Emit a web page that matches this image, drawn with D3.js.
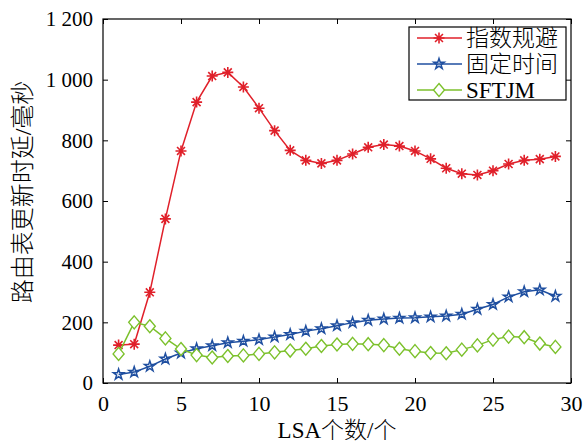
<!DOCTYPE html>
<html>
<head>
<meta charset="utf-8">
<script src="https://cdn.jsdelivr.net/npm/d3@7"></script>
<style>
  html, body { margin: 0; background: #fff; overflow: hidden; }
  svg { display: block; }
  text { font-family: "Liberation Serif", "Times New Roman", "Noto Sans CJK SC", serif; fill: #000; }
  .cjk { font-weight: 300; }
</style>
</head>
<body>
<div id="graph"><svg></svg></div>
<script>
// data
let lsaCount = [1, 2, 3, 4, 5, 6, 7, 8, 9, 10, 11, 12, 13, 14, 15, 16, 17, 18, 19, 20, 21, 22, 23, 24, 25, 26, 27, 28, 29];
let expBackoff = [125, 128, 299, 541, 765, 926, 1012, 1024, 976, 906, 832, 767, 734, 724, 734, 755, 777, 786, 781, 765, 739, 708, 690, 686, 700, 722, 734, 738, 747];
let fixedTime = [28, 36, 55, 79, 99, 113, 123, 133, 138, 143, 152, 160, 171, 179, 189, 199, 207, 211, 214, 215, 218, 221, 227, 243, 259, 284, 301, 307, 286];
let sftjm = [96, 200, 187, 147, 112, 92, 84, 89, 91, 96, 101, 107, 113, 122, 127, 129, 128, 125, 113, 105, 99, 98, 110, 124, 143, 153, 151, 130, 119];
let seriesNames = ["指数规避", "固定时间", "SFTJM"];
let xTicks = [0, 5, 10, 15, 20, 25, 30];
let yTicks = [0, 200, 400, 600, 800, 1000, 1200];
let yTickLabels = ["0", "200", "400", "600", "800", "1 000", "1 200"];

// Margin Convention
let margins = { top: 19, right: 15, bottom: 64, left: 103 };
let outerWidth = 586;
let outerHeight = 447;
let innerWidth = outerWidth - margins.left - margins.right;
let innerHeight = outerHeight - margins.top - margins.bottom;

let svg = d3
  .select("div#graph svg")
  .attr("width", outerWidth)
  .attr("height", outerHeight)
  .append("g")
  .attr("id", "plot-area")
  .attr("transform", "translate(" + margins.left + "," + margins.top + ")");

let xScale = d3.scaleLinear().domain([0, 30]).range([0, innerWidth]);
let yScale = d3.scaleLinear().domain([0, 1200]).range([innerHeight, 0]);

// axes, ticks pointing inward like matlab
let axisStyle = function (g, size) {
  g.select(".domain").remove();
  g.selectAll("line").attr("stroke", "#000");
  g.selectAll("text").style("font-size", size);
};

svg
  .append("g")
  .attr("transform", "translate(0," + innerHeight + ")")
  .call(d3.axisBottom(xScale).tickValues(xTicks).tickSize(-5).tickPadding(12))
  .call((g) => axisStyle(g, "22px"));

svg
  .append("g")
  .call(d3.axisTop(xScale).tickValues(xTicks).tickSize(-5))
  .call((g) => {
    g.select(".domain").remove();
    g.selectAll("text").remove();
  });

svg
  .append("g")
  .call(
    d3.axisLeft(yScale).tickValues(yTicks).tickSize(-5).tickPadding(10)
      .tickFormat((d, i) => yTickLabels[i])
  )
  .call((g) => axisStyle(g, "21px"));

svg
  .append("g")
  .attr("transform", "translate(" + innerWidth + ",0)")
  .call(d3.axisRight(yScale).tickValues(yTicks).tickSize(-5))
  .call((g) => {
    g.select(".domain").remove();
    g.selectAll("text").remove();
  });

svg
  .append("rect")
  .attr("width", innerWidth)
  .attr("height", innerHeight)
  .attr("fill", "none")
  .attr("stroke", "#000")
  .attr("stroke-width", 1.2);

// axis titles
svg
  .append("text")
  .attr("class", "cjk")
  .attr("x", innerWidth / 2)
  .attr("y", innerHeight + 55)
  .attr("text-anchor", "middle")
  .style("font-size", "23px")
  .text("LSA个数/个");

svg
  .append("text")
  .attr("class", "cjk")
  .attr("transform", "translate(" + (-72) + "," + (innerHeight / 2 - 9) + ") rotate(-90)")
  .attr("text-anchor", "middle")
  .style("font-size", "24px")
  .text("路由表更新时延/毫秒");

// markers
let asterisk = function (r) {
  let d = r * 0.72;
  return "M" + -r + ",0L" + r + ",0M0," + -r + "L0," + r +
    "M" + -d + "," + -d + "L" + d + "," + d + "M" + -d + "," + d + "L" + d + "," + -d;
};
let diamond = function (w, h) {
  return "M0," + -h + "L" + w + ",0L0," + h + "L" + -w + ",0Z";
};
let star = d3.symbol().type(d3.symbolStar).size(34)();

let series = [
  { name: seriesNames[0], values: expBackoff, color: "#e0202a", marker: asterisk(5.5), fill: "none", sw: 1.6 },
  { name: seriesNames[1], values: fixedTime, color: "#1f4fa0", marker: star, fill: "none", sw: 1.5 },
  { name: seriesNames[2], values: sftjm, color: "#7cc12c", marker: diamond(5.5, 6.5), fill: "#fff", sw: 1.4 }
];

let line = d3
  .line()
  .x((d, i) => xScale(lsaCount[i]))
  .y((d) => yScale(d));

series.forEach(function (s) {
  svg
    .append("path")
    .datum(s.values)
    .attr("fill", "none")
    .attr("stroke", s.color)
    .attr("stroke-width", 1.5)
    .attr("d", line);

  svg
    .append("g")
    .selectAll("path")
    .data(s.values)
    .join("path")
    .attr("transform", (d, i) => "translate(" + xScale(lsaCount[i]) + "," + yScale(d) + ")")
    .attr("d", s.marker)
    .attr("fill", s.fill)
    .attr("stroke", s.color)
    .attr("stroke-width", s.sw);
});

// legend
let legend = svg
  .append("g")
  .attr("transform", "translate(" + (409 - margins.left) + "," + (27 - margins.top) + ")");

legend
  .append("rect")
  .attr("width", 157)
  .attr("height", 73)
  .attr("fill", "#fff")
  .attr("stroke", "#000")
  .attr("stroke-width", 1.2);

series.forEach(function (s, i) {
  let y = 11 + i * 26;
  legend
    .append("line")
    .attr("x1", 8)
    .attr("x2", 53)
    .attr("y1", y)
    .attr("y2", y)
    .attr("stroke", s.color)
    .attr("stroke-width", 1.5);
  legend
    .append("path")
    .attr("transform", "translate(30," + y + ")")
    .attr("d", s.marker)
    .attr("fill", s.fill)
    .attr("stroke", s.color)
    .attr("stroke-width", s.sw);
  legend
    .append("text")
    .attr("class", "cjk")
    .attr("x", 57)
    .attr("y", y + 8)
    .style("font-size", "23px")
    .text(s.name);
});
</script>
</body>
</html>
